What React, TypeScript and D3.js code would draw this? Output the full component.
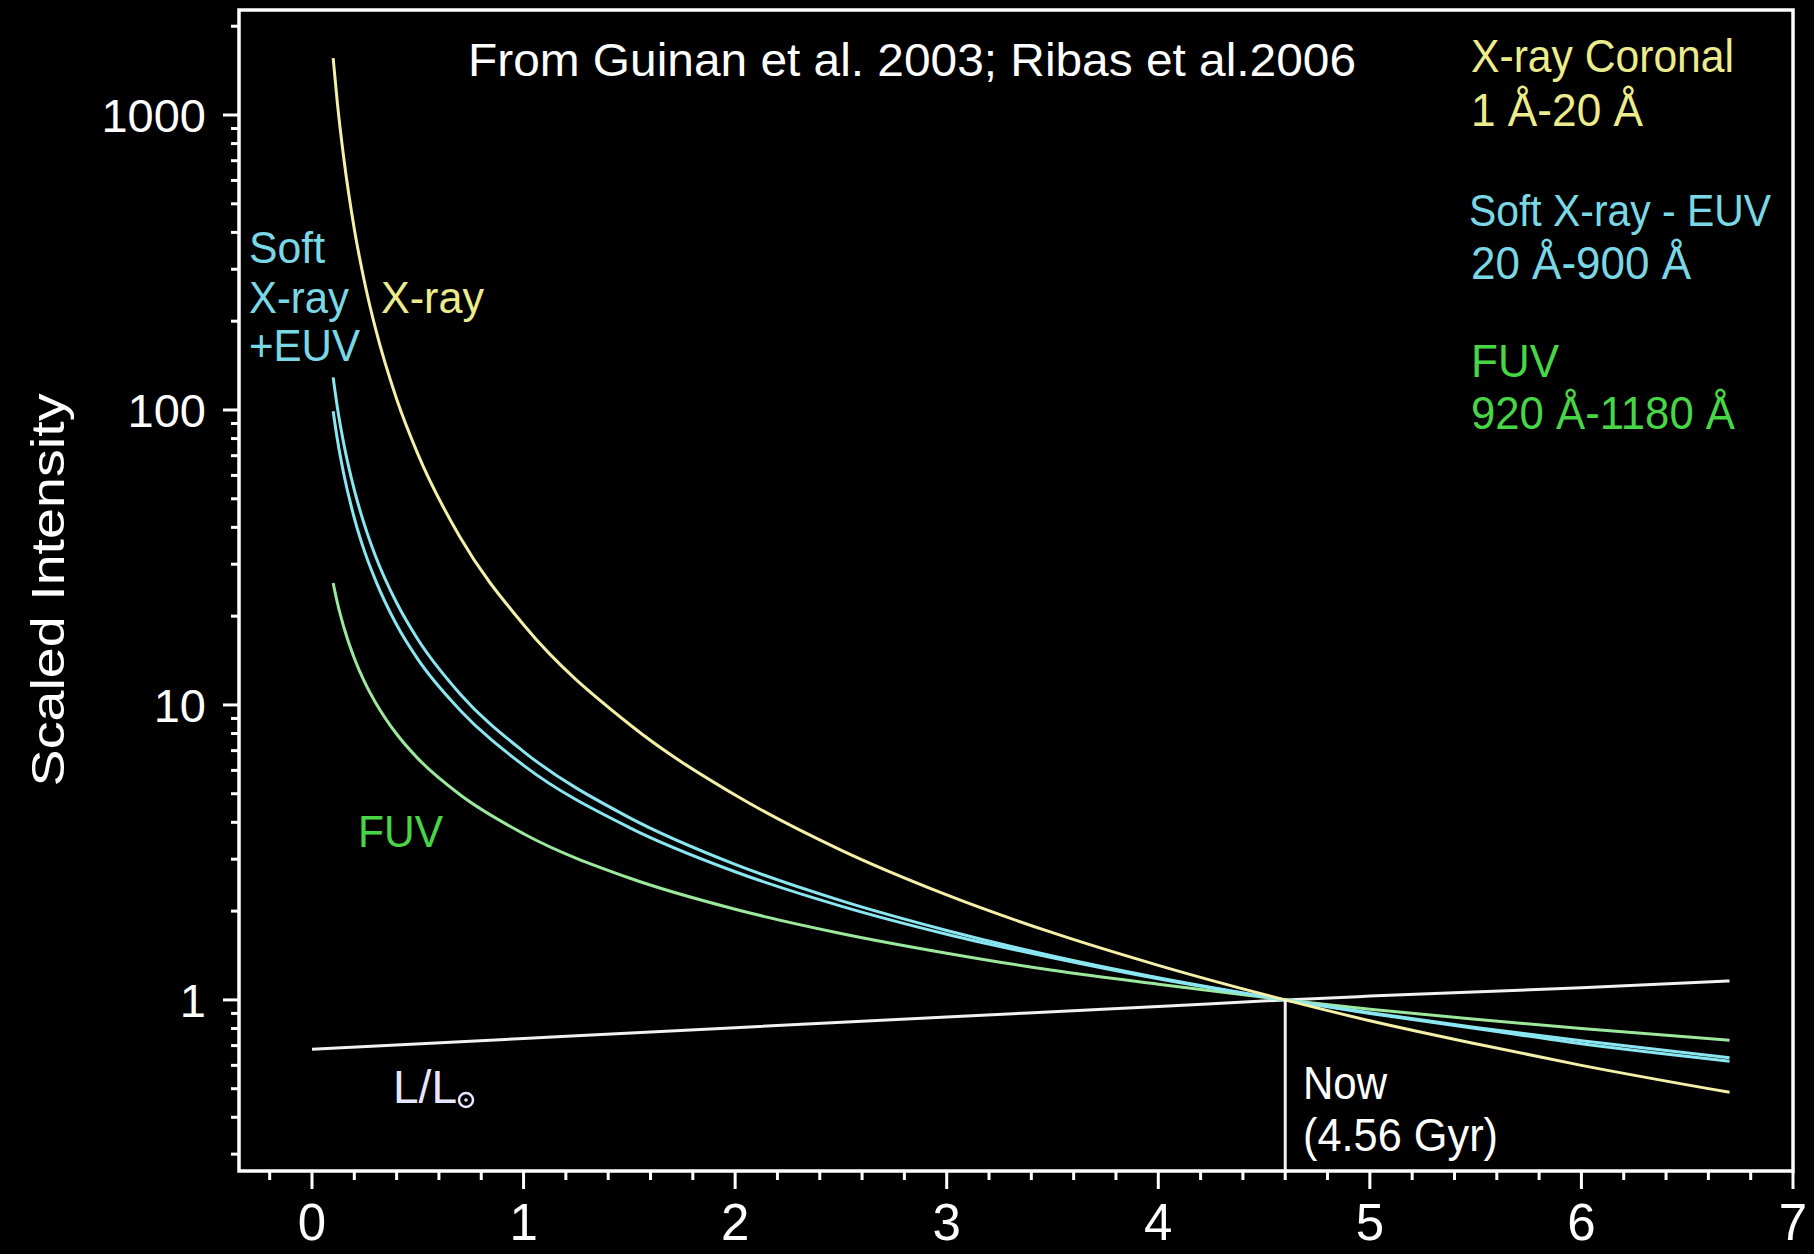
import React from "react";
import * as d3 from "d3";

const W = 1814;
const H = 1254;

// Ages (Gyr) at which the curves are read
const ages = [0.1, 0.12, 0.15, 0.2, 0.25, 0.3, 0.4, 0.5, 0.7, 1.0, 1.5, 2.0, 2.5, 3.0, 3.5, 4.0, 4.6, 5.0, 5.5, 6.0, 6.7];
// X-ray coronal 1-20 Å
const xrayValues = [1560, 1097, 716, 411, 268, 189, 109, 71, 37, 18.7, 8.6, 4.95, 3.22, 2.27, 1.69, 1.31, 1.0, 0.85, 0.71, 0.6, 0.486];
// Soft X-ray - EUV (two bands)
const softUpperValues = [129, 102, 77, 53.6, 40.4, 32, 22.2, 16.7, 10.9, 6.95, 4.15, 2.88, 2.17, 1.72, 1.41, 1.19, 1.0, 0.9, 0.8, 0.71, 0.62];
const softLowerValues = [99, 79.4, 60.8, 43, 32.9, 26.5, 18.7, 14.3, 9.6, 6.24, 3.84, 2.72, 2.08, 1.67, 1.39, 1.18, 1.0, 0.905, 0.807, 0.727, 0.637];
// FUV 920-1180 Å
const fuvValues = [25.9, 22.2, 18.4, 14.4, 11.9, 10.2, 7.97, 6.59, 4.96, 3.66, 2.59, 2.03, 1.68, 1.44, 1.26, 1.13, 1.0, 0.93, 0.86, 0.8, 0.73];
// Solar luminosity L/Lsun
const lumAges = [0, 1, 2, 3, 4, 4.6, 5, 6, 6.7];
const lumValues = [0.68, 0.74, 0.805, 0.875, 0.95, 1.0, 1.03, 1.1, 1.16];

const nowAge = 4.6;
const yTickLabels = [1, 10, 100, 1000];
const xTickLabels = [0, 1, 2, 3, 4, 5, 6, 7];

const FONT = "'Liberation Sans', Arial, Helvetica, sans-serif";

const C_YELLOW = "#f4f0a8";
const C_YELLOW_TXT = "#ecec8c";
const C_CYAN = "#8ae6f0";
const C_CYAN_TXT = "#7ad8e6";
const C_GREEN = "#9ce89c";
const C_GREEN_TXT = "#46d646";
const C_WHITE = "#f2f2f2";

export default function App() {
  const left = 239;
  const right = 1793;
  const top = 10;
  const bottom = 1171;

  const x = d3.scaleLinear().domain([-0.345, 7]).range([left, right]);
  const y = d3.scaleLog().domain([0.263, 2270]).range([bottom, top]);

  const line = d3
    .line<[number, number]>()
    .x((d) => x(d[0]))
    .y((d) => y(d[1]))
    .curve(d3.curveMonotoneX);

  const mk = (vals: number[]) => ages.map((a, i) => [a, vals[i]] as [number, number]);
  const lum = lumAges.map((a, i) => [a, lumValues[i]] as [number, number]);

  const yTicks = y.ticks(20).filter((v) => v >= 0.3 && v <= 2000);
  const isMajorY = (v: number) => yTickLabels.some((t) => Math.abs(t - v) < 1e-9);
  const xTicks = d3.range(-1, 36).map((i) => i * 0.2);
  const isMajorX = (v: number) => Math.abs(v - Math.round(v)) < 1e-6;

  const T = (props: any) => <text lengthAdjust="spacingAndGlyphs" {...props} />;

  return (
    <svg
      width={W}
      height={H}
      style={{ position: "absolute", left: 0, top: 0, background: "#000" }}
      fontFamily={FONT}
    >
      <rect x={0} y={0} width={W} height={H} fill="#000" />

      {/* curves */}
      <path d={line(lum) || ""} fill="none" stroke={C_WHITE} strokeWidth={3} />
      <path d={line(mk(fuvValues)) || ""} fill="none" stroke={C_GREEN} strokeWidth={3} />
      <path d={line(mk(softLowerValues)) || ""} fill="none" stroke={C_CYAN} strokeWidth={3} />
      <path d={line(mk(softUpperValues)) || ""} fill="none" stroke={C_CYAN} strokeWidth={3} />
      <path d={line(mk(xrayValues)) || ""} fill="none" stroke={C_YELLOW} strokeWidth={3} />

      {/* Now marker */}
      <line x1={x(nowAge)} x2={x(nowAge)} y1={y(1)} y2={bottom} stroke={C_WHITE} strokeWidth={3} />

      {/* frame */}
      <rect x={left} y={top} width={right - left} height={bottom - top} fill="none" stroke="#fff" strokeWidth={3.5} />

      {/* y ticks */}
      {yTicks.map((v, i) => (
        <line
          key={"yt" + i}
          x1={left}
          x2={left - (isMajorY(v) ? 16 : 8)}
          y1={y(v)}
          y2={y(v)}
          stroke="#fff"
          strokeWidth={3}
        />
      ))}
      {yTickLabels.map((v) => (
        <text key={"yl" + v} x={206} y={y(v) + 17} fill="#fff" fontSize={47} textAnchor="end">
          {v}
        </text>
      ))}

      {/* x ticks */}
      {xTicks.map((v, i) => (
        <line
          key={"xt" + i}
          x1={x(v)}
          x2={x(v)}
          y1={bottom}
          y2={bottom + (isMajorX(v) ? 18 : 9)}
          stroke="#fff"
          strokeWidth={3}
        />
      ))}
      {xTickLabels.map((v) => (
        <text key={"xl" + v} x={x(v)} y={1240} fill="#fff" fontSize={51} textAnchor="middle">
          {v}
        </text>
      ))}

      {/* axis title */}
      <T transform="translate(64,590) rotate(-90)" fill="#fff" fontSize={47} textAnchor="middle" textLength={393}>
        Scaled Intensity
      </T>

      {/* source */}
      <T x={468} y={76} fill="#fff" fontSize={47} textLength={888}>
        From Guinan et al. 2003; Ribas et al.2006
      </T>

      {/* legend right */}
      <g fontSize={47}>
        <T x={1471} y={72} fill={C_YELLOW_TXT} textLength={263}>X-ray Coronal</T>
        <T x={1471} y={126} fill={C_YELLOW_TXT} textLength={172}>1 Å-20 Å</T>
        <T x={1469} y={226} fill={C_CYAN_TXT} fontSize={45} textLength={302}>Soft X-ray - EUV</T>
        <T x={1471} y={279} fill={C_CYAN_TXT} textLength={220}>20 Å-900 Å</T>
        <T x={1471} y={377} fill={C_GREEN_TXT} textLength={88}>FUV</T>
        <T x={1471} y={429} fill={C_GREEN_TXT} textLength={264}>920 Å-1180 Å</T>
      </g>

      {/* in-plot labels */}
      <g fontSize={45}>
        <T x={249} y={263} fill={C_CYAN_TXT} textLength={76}>Soft</T>
        <T x={249} y={313} fill={C_CYAN_TXT} textLength={100}>X-ray</T>
        <T x={249} y={361} fill={C_CYAN_TXT} textLength={111}>+EUV</T>
        <T x={381} y={313} fill={C_YELLOW_TXT} textLength={103}>X-ray</T>
        <T x={358} y={847} fill={C_GREEN_TXT} textLength={85}>FUV</T>
      </g>

      {/* L/Lsun */}
      <T x={393} y={1103} fill="#e6e6ff" fontSize={46} textLength={64}>L/L</T>
      <circle cx={466} cy={1100} r={7} fill="none" stroke="#e6e6ff" strokeWidth={2.5} />
      <circle cx={466} cy={1100} r={1.8} fill="#e6e6ff" />

      {/* Now label */}
      <T x={1303} y={1099} fill="#fff" fontSize={46} textLength={84}>Now</T>
      <T x={1303} y={1151} fill="#fff" fontSize={46} textLength={195}>(4.56 Gyr)</T>
    </svg>
  );
}
